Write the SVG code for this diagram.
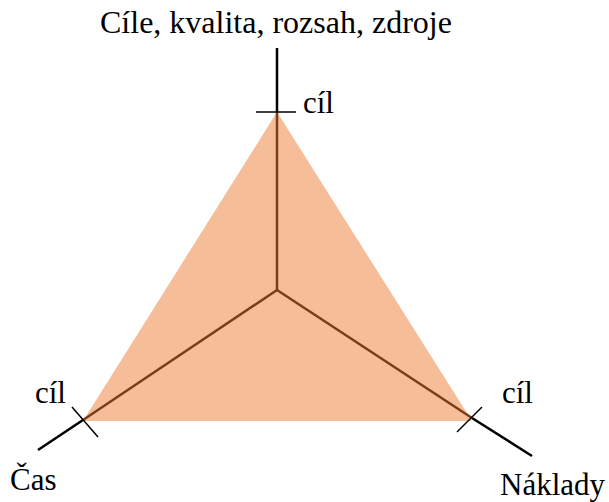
<svg xmlns="http://www.w3.org/2000/svg" width="609" height="502" viewBox="0 0 609 502">
<style>
text{font-family:"Liberation Serif","Times New Roman",serif;font-size:31px;fill:#000}
.ax{stroke:#000;stroke-width:2.5;fill:none}
.tk{stroke:#000;stroke-width:1.5;fill:none}
.in{stroke:#7a3e16;stroke-width:2.5;fill:none}
</style>
<rect width="609" height="502" fill="#fff"/>
<g id="triangle"><polygon points="277,112 83,421 472,421" fill="#f6be98"/></g>
<g id="connectors">
<line class="ax" x1="277" y1="48" x2="277" y2="112"/>
<line class="ax" x1="83" y1="420" x2="38" y2="450"/>
<line class="ax" x1="472" y1="418" x2="532" y2="456"/>
<line class="in" x1="277" y1="112" x2="277" y2="290"/>
<line class="in" x1="277" y1="290" x2="83" y2="420"/>
<line class="in" x1="277" y1="290" x2="472" y2="418"/>
<line class="tk" x1="256" y1="112" x2="296" y2="112"/>
<line class="tk" x1="72" y1="407" x2="98" y2="437"/>
<line class="tk" x1="482" y1="407" x2="457" y2="432"/>
</g>
<g id="top"><text x="100" y="33" style="font-size:32px">Cíle, kvalita, rozsah, zdroje</text><text x="303" y="113">cíl</text></g>
<g id="left"><text x="35" y="403">cíl</text><text x="10" y="490">Čas</text></g>
<g id="right"><text x="502" y="403">cíl</text><text x="500" y="495">Náklady</text></g>
</svg>
